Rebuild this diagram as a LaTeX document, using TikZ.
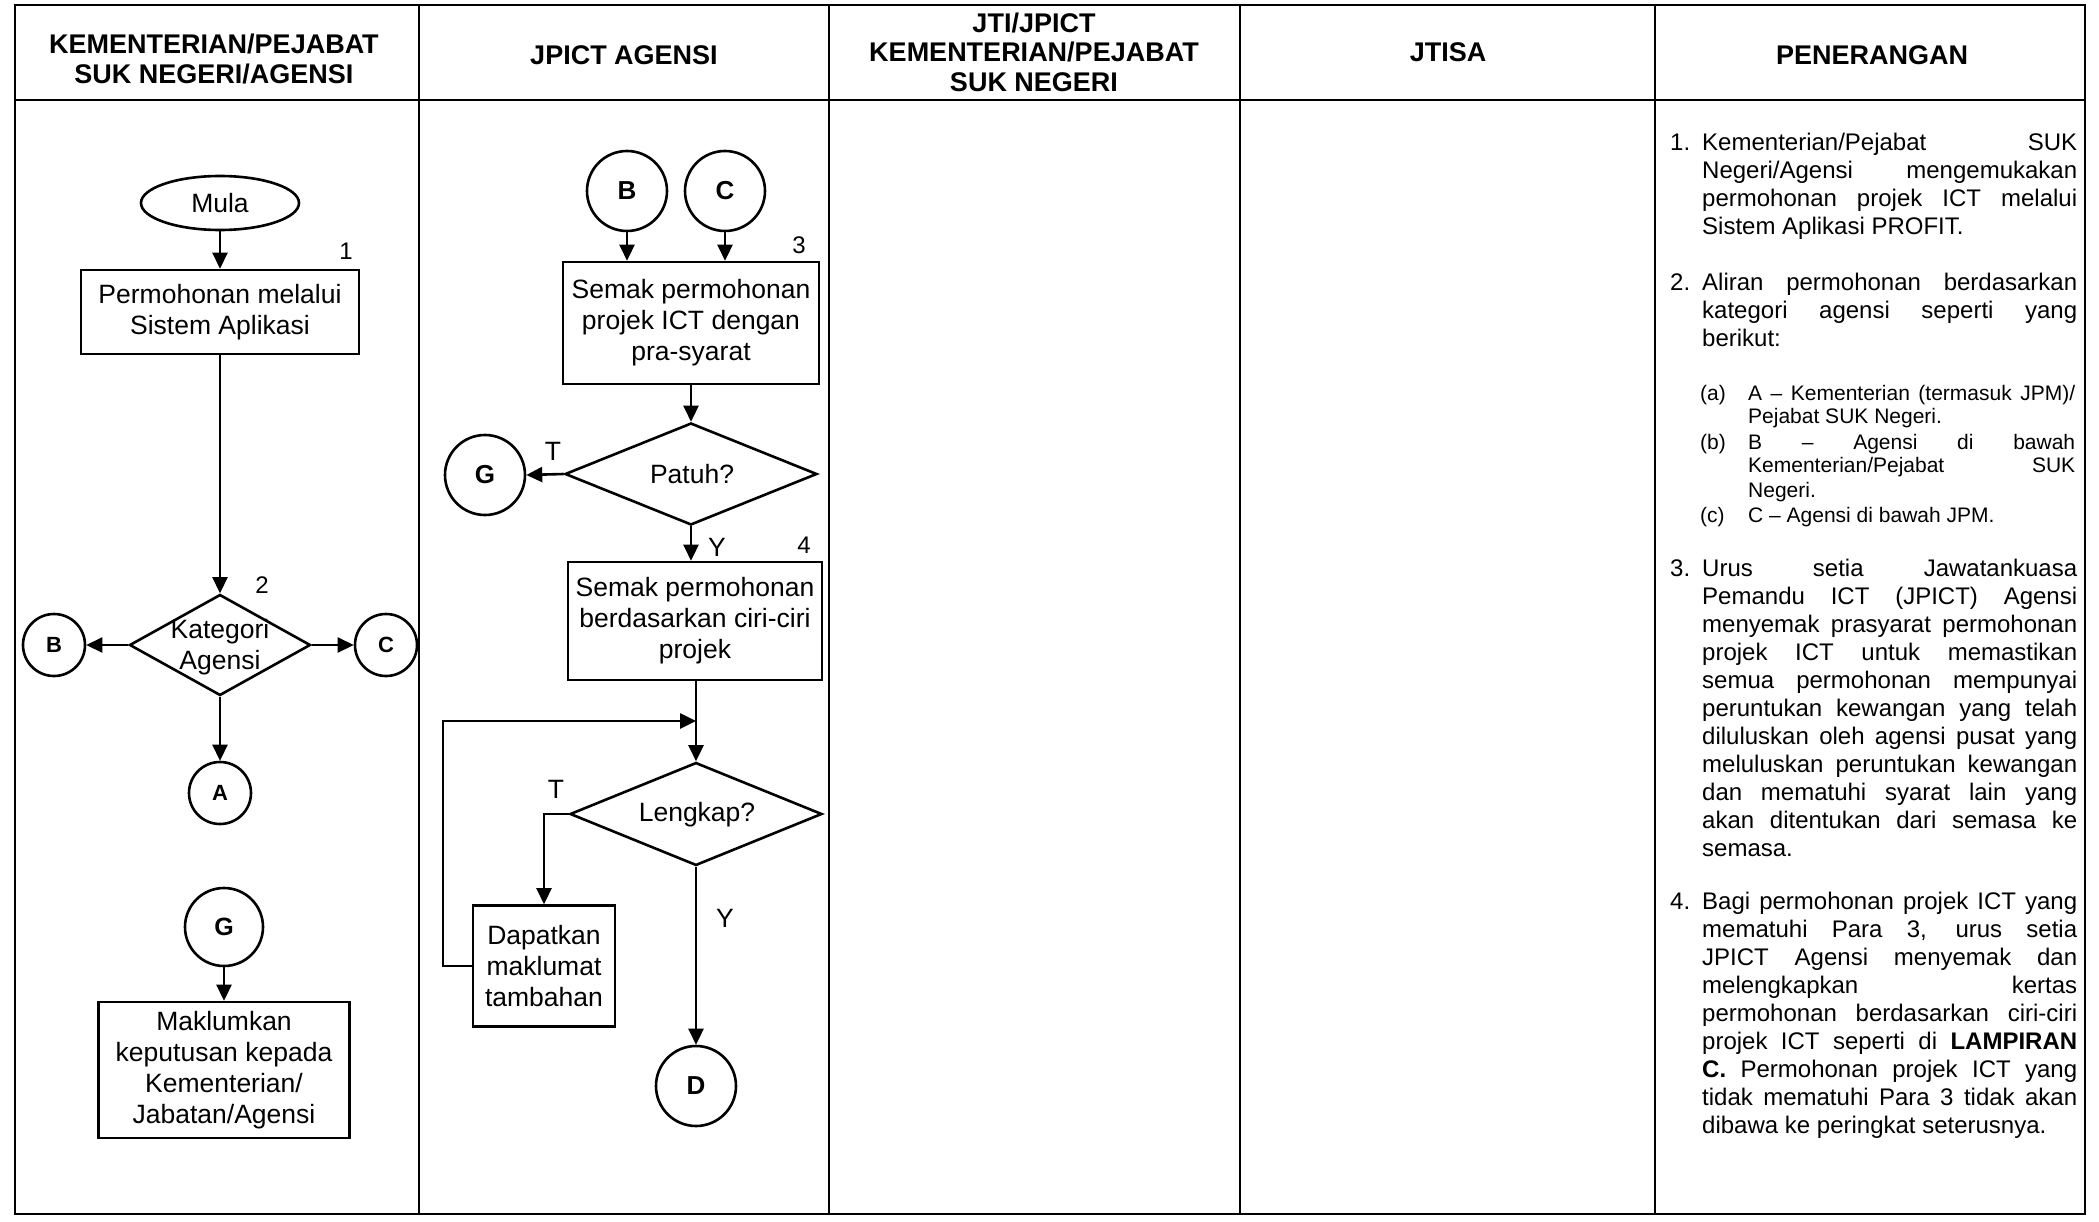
\documentclass[tikz,border=0pt]{standalone}
\usepackage{fontspec}
\setmainfont{Liberation Sans}
\usetikzlibrary{shapes.geometric,arrows.meta}
\newcommand\jl[1]{\hbox to\hsize{#1}}
\newcommand\lastl[1]{\hbox to\hsize{#1\hfil}}
\begin{document}
\begin{tikzpicture}[x=1pt,y=-1pt,
  lw/.style={line width=2.6pt},
  arr/.style={lw,-{Triangle[length=16pt,width=15pt]}},
  ftxt/.style={font=\fontsize{26.5}{31}\selectfont, align=center, inner sep=0pt},
  pbox/.style={draw, lw, rectangle, inner sep=0pt, align=center, font=\fontsize{26.5}{31}\selectfont},
  dia/.style={draw, lw, diamond, inner sep=0pt},
  circS/.style={draw, lw, circle, inner sep=0pt, minimum size=62pt, font=\bfseries\fontsize{22}{26}\selectfont},
  circL/.style={draw, lw, circle, inner sep=0pt, minimum size=80pt, font=\bfseries\fontsize{26}{30}\selectfont},
  num/.style={font=\fontsize{24}{28}\selectfont, inner sep=0pt},
  hdr/.style={font=\bfseries\fontsize{27}{29.5}\selectfont, align=center, inner sep=0pt},
  expl/.style={anchor=base west, inner sep=0pt, font=\fontsize{24}{28}\selectfont},
  sexpl/.style={anchor=base west, inner sep=0pt, font=\fontsize{21}{24}\selectfont},
]
\useasboundingbox (0,0) rectangle (2099,1222);
% table
\draw[lw] (15,5) rectangle (2085,1214);
\draw[lw] (15,100) -- (2085,100);
\draw[lw] (419,5) -- (419,1214);
\draw[lw] (829,5) -- (829,1214);
\draw[lw] (1240,5) -- (1240,1214);
\draw[lw] (1655,5) -- (1655,1214);
% headers
\node[hdr] (h1) at (214,59) {KEMENTERIAN/PEJABAT\\SUK NEGERI/AGENSI};
\node[hdr] (h2) at (624,55) {JPICT AGENSI};
\node[hdr] (h3) at (1034,52) {JTI/JPICT\\KEMENTERIAN/PEJABAT\\SUK NEGERI};
\node[hdr] (h4) at (1448,52) {JTISA};
\node[hdr] (h5) at (1872,55) {PENERANGAN};

% column 1
\node[draw, lw, ellipse, inner sep=0pt, minimum width=158pt, minimum height=54pt, font=\fontsize{26.5}{31}\selectfont] (mula) at (220,203) {Mula};
\node[num] (n1) at (346,251) {1};
\node[pbox, minimum width=278pt, minimum height=84pt] (box1) at (220,312) {Permohonan melalui\\Sistem Aplikasi};
\node[dia, minimum width=181pt, minimum height=101pt] (kat) at (220,645) {};
\node[ftxt] (katt) at (220,647) {Kategori\\Agensi};
\node[num] (n2) at (262,585) {2};
\node[circS] (b1) at (54,645) {B};
\node[circS] (c1) at (386,645) {C};
\node[circS] (a1) at (220,793) {A};
\node[draw, lw, circle, inner sep=0pt, minimum size=78pt, font=\bfseries\fontsize{25}{30}\selectfont] (g1) at (224,927) {G};
\node[pbox, minimum width=251pt, minimum height=136pt] (box5) at (224,1070) {Maklumkan\\keputusan kepada\\Kementerian/\\Jabatan/Agensi};

\draw[arr] (mula.south) -- (box1.north);
\draw[arr] (box1.south) -- (kat.north);
\draw[arr] (kat.west) -- (b1.east);
\draw[arr] (kat.east) -- (c1.west);
\draw[arr] (kat.south) -- (a1.north);
\draw[arr] (g1.south) -- (box5.north);

% column 2
\node[circL] (b2) at (627,191) {B};
\node[circL] (c2) at (725,191) {C};
\node[num] (n3) at (799,245) {3};
\node[pbox, minimum width=256pt, minimum height=122pt] (box3) at (691,323) {Semak permohonan\\projek ICT dengan\\pra-syarat};
\node[dia, minimum width=252pt, minimum height=102pt] (pat) at (691,474) {};
\node[ftxt] (patt) at (692,474) {Patuh?};
\node[ftxt] (t1) at (553,451) {T};
\node[circL] (g2) at (485,475) {G};
\node[ftxt] (y1) at (717,547) {Y};
\node[num] (n4) at (804,545) {4};
\node[pbox, minimum width=254pt, minimum height=118pt] (box4) at (695,621) {Semak permohonan\\berdasarkan ciri-ciri\\projek};
\coordinate (jn) at (696,721);
\coordinate (loopc) at (443,721);
\node[dia, minimum width=252pt, minimum height=103pt] (len) at (696,814) {};
\node[ftxt] (lent) at (697,815) {Lengkap?};
\node[ftxt] (t2) at (556,789) {T};
\node[pbox, minimum width=142pt, minimum height=121pt] (dap) at (544,966) {Dapatkan\\maklumat\\tambahan};
\node[ftxt] (y2) at (725,918) {Y};
\node[circL] (d2) at (696,1086) {D};

\draw[arr] (b2.south) -- (b2.south |- box3.north);
\draw[arr] (c2.south) -- (c2.south |- box3.north);
\draw[arr] (box3.south) -- (pat.north);
\draw[arr] (pat.west) -- (g2.east);
\draw[arr] (pat.south) -- (pat.south |- box4.north);
\draw[lw] (box4.south -| jn) -- (jn);
\draw[arr] (jn) -- (len.north);
\draw[arr] (len.west) -| (dap.north);
\draw[arr] (dap.west) -| (loopc) -- (jn);
\draw[arr] (len.south) -- (d2.north);

% explanation column
\node[expl] (e1n) at (1670,151) {1.};
\node[expl] (e1) at (1702,151) {\parbox[t]{375pt}{%
\jl{Kementerian/Pejabat SUK}%
\jl{Negeri/Agensi mengemukakan}%
\jl{permohonan projek ICT melalui}%
\lastl{Sistem Aplikasi PROFIT.}}};
\node[expl] (e2n) at (1670,291) {2.};
\node[expl] (e2) at (1702,291) {\parbox[t]{375pt}{%
\jl{Aliran permohonan berdasarkan}%
\jl{kategori agensi seperti yang}%
\lastl{berikut:}}};
\node[sexpl] (sa) at (1700,400) {(a)};
\node[sexpl] (sat) at (1748,400) {\parbox[t]{327pt}{%
\jl{A – Kementerian (termasuk JPM)/}%
\lastl{Pejabat SUK Negeri.}}};
\node[sexpl] (sb) at (1700,449) {(b)};
\node[sexpl] (sbt) at (1748,449) {\parbox[t]{327pt}{%
\jl{B – Agensi di bawah}%
\jl{Kementerian/Pejabat SUK}%
\lastl{Negeri.}}};
\node[sexpl] (sc) at (1700,522) {(c)};
\node[sexpl] (sct) at (1748,522) {\parbox[t]{327pt}{%
\lastl{C – Agensi di bawah JPM.}}};
\node[expl] (e3n) at (1670,576) {3.};
\node[expl] (e3) at (1702,576) {\parbox[t]{375pt}{%
\jl{Urus setia Jawatankuasa}%
\jl{Pemandu ICT (JPICT) Agensi}%
\jl{menyemak prasyarat permohonan}%
\jl{projek ICT untuk memastikan}%
\jl{semua permohonan mempunyai}%
\jl{peruntukan kewangan yang telah}%
\jl{diluluskan oleh agensi pusat yang}%
\jl{meluluskan peruntukan kewangan}%
\jl{dan mematuhi syarat lain yang}%
\jl{akan ditentukan dari semasa ke}%
\lastl{semasa.}}};
\node[expl] (e4n) at (1670,909) {4.};
\node[expl] (e4) at (1702,909) {\parbox[t]{375pt}{%
\jl{Bagi permohonan projek ICT yang}%
\jl{mematuhi Para 3, urus setia}%
\jl{JPICT Agensi menyemak dan}%
\jl{melengkapkan kertas}%
\jl{permohonan berdasarkan ciri-ciri}%
\jl{projek ICT seperti di \textbf{LAMPIRAN}}%
\jl{\textbf{C.} Permohonan projek ICT yang}%
\jl{tidak mematuhi Para 3 tidak akan}%
\lastl{dibawa ke peringkat seterusnya.}}};
\end{tikzpicture}
\end{document}
